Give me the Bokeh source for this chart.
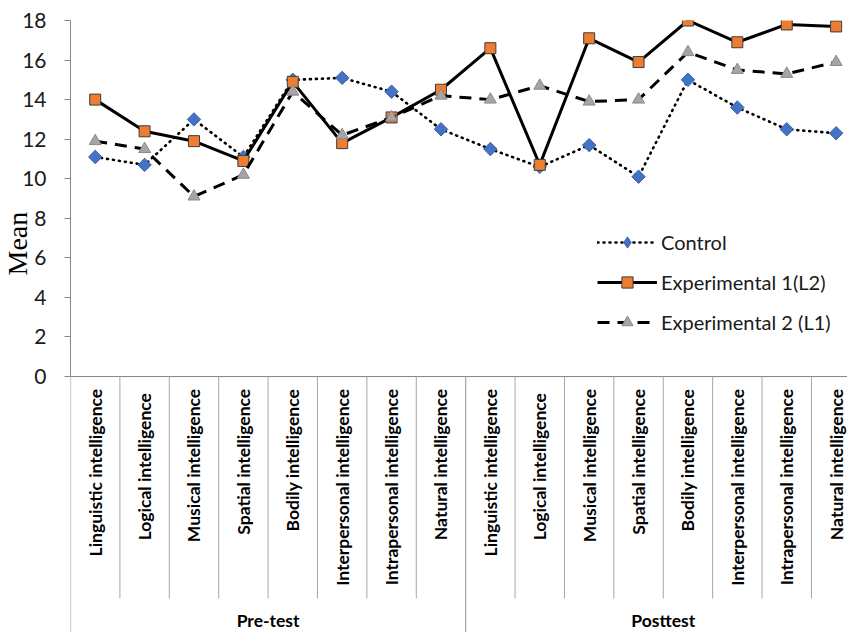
import math
import numpy as np
from bokeh.plotting import figure
from bokeh.models import Range1d, FixedTicker, Legend, LegendItem, Title
from bokeh.core.properties import value
from bokeh.embed import file_html
from bokeh.resources import INLINE

# ---------------- data ----------------
intelligences = ["Linguistic intelligence", "Logical  intelligence", "Musical intelligence",
                 "Spatial intelligence", "Bodily intelligence", "Interpersonal intelligence",
                 "Intrapersonal intelligence", "Natural intelligence"]
groups = ["Pre-test", "Posttest"]
series_names = ["Control", "Experimental 1(L2)", "Experimental 2 (L1)"]

control = [11.1, 10.7, 13.0, 11.1, 15.0, 15.1, 14.4, 12.5,
           11.5, 10.6, 11.7, 10.1, 15.0, 13.6, 12.5, 12.3]
experimental1 = [14.0, 12.4, 11.9, 10.9, 14.9, 11.8, 13.1, 14.5,
                 16.6, 10.7, 17.1, 15.9, 18.0, 16.9, 17.8, 17.7]
experimental2 = [11.9, 11.5, 9.1, 10.2, 14.4, 12.2, 13.1, 14.2,
                 14.0, 14.7, 13.9, 14.0, 16.4, 15.5, 15.3, 15.9]
y_ticks = [0, 2, 4, 6, 8, 10, 12, 14, 16, 18]
y_title = "Mean"

# ---------------- layout ----------------
labels = intelligences * len(groups)
n = len(labels)
xs = list(range(n))
per_group = len(intelligences)

Y_TOP = 18
Y_BOTTOM = -12.94
LABEL_Y = -0.62
SEP_Y = -11.22
GROUP_Y = -12.34

p = figure(width=847, height=632, output_backend="svg", toolbar_location=None,
           x_range=Range1d(-0.5, 15.23), y_range=Range1d(Y_BOTTOM, Y_TOP),
           x_axis_location=None, y_axis_location="left",
           min_border_left=70, min_border_right=0, min_border_top=20, min_border_bottom=0)
p.grid.visible = False
p.outline_line_color = None
p.background_fill_color = "white"
p.border_fill_color = "white"

ax = p.yaxis[0]
ax.ticker = FixedTicker(ticks=y_ticks)
ax.bounds = (0, Y_TOP)
ax.axis_line_color = "#868686"
ax.major_tick_line_color = "#868686"
ax.minor_tick_line_color = None
ax.major_tick_out = 6
ax.major_tick_in = 0
ax.major_label_standoff = 18
ax.major_label_text_font = "Lato"
ax.major_label_text_font_size = "21px"
ax.major_label_text_color = "#1a1a1a"

# y axis title (placed in the left panel)
p.add_layout(Title(text=y_title, align="left", offset=357, standoff=-26,
                   text_font="Liberation Serif", text_font_size="28px",
                   text_font_style="normal", text_color="#000000"), "left")

# category axis line & separators
p.segment(x0=[-0.5], y0=[0], x1=[n - 0.5], y1=[0], line_color="#868686", line_width=1)
inner = [i + 0.5 for i in range(n - 1) if (i + 1) % per_group != 0]
p.segment(x0=inner, y0=[0] * len(inner), x1=inner, y1=[SEP_Y] * len(inner),
          line_color="#a6a6a6", line_width=1)
outer = [g * per_group - 0.5 for g in range(len(groups) + 1)]
p.segment(x0=outer, y0=[0] * len(outer), x1=outer, y1=[Y_BOTTOM] * len(outer),
          line_color="#a6a6a6", line_width=1.2)

# category labels
p.text(x=xs, y=[LABEL_Y] * n, text=labels, angle=math.pi / 2,
       text_align="right", text_baseline="middle",
       text_font=value("Lato"), text_font_style="bold", text_font_size="17.5px",
       text_color="#000000")
# group labels
gx = [g * per_group + (per_group - 1) / 2 for g in range(len(groups))]
p.text(x=gx, y=[GROUP_Y] * len(groups), text=groups, text_align="center",
       text_baseline="middle", text_font=value("Lato"), text_font_style="bold",
       text_font_size="17.5px", text_color="#000000")

# series
l1 = p.line(xs, control, line_color="black", line_width=2.6, line_dash="1 5", line_cap="round")
m1 = p.scatter(xs, control, marker="square", angle=math.pi / 4, size=9.5,
               fill_color="#4472C4", line_color="#3a62a8", line_width=1)
# hidden twin of the control markers, used only as the legend's diamond swatch
m1_key = p.scatter(xs, control, marker="diamond", size=16,
                   fill_color="#4472C4", line_color="#3a62a8", line_width=1)
m1_key.visible = False
l2 = p.line(xs, experimental1, line_color="black", line_width=3)
m2 = p.scatter(xs, experimental1, marker="square", size=11, fill_color="#ED7D31",
               line_color="#3d3d3d", line_width=1)
l3 = p.line(xs, experimental2, line_color="black", line_width=3, line_dash="12 8")
m3 = p.scatter(xs, experimental2, marker="triangle", size=12, fill_color="#A5A5A5",
               line_color="#8a8a8a", line_width=1)

legend = Legend(items=[LegendItem(label=series_names[0], renderers=[l1, m1_key]),
                       LegendItem(label=series_names[1], renderers=[l2, m2]),
                       LegendItem(label=series_names[2], renderers=[l3, m3])],
                location=(527, 296), orientation="vertical",
                glyph_width=60, glyph_height=28, label_height=28, spacing=12,
                label_standoff=4, padding=0, margin=0,
                label_text_font="Lato", label_text_font_size="20px",
                label_text_color="#1a1a1a",
                inactive_fill_alpha=0,
                border_line_alpha=0, background_fill_alpha=0)
p.add_layout(legend)

open("out.html", "w").write(file_html(p, INLINE))
